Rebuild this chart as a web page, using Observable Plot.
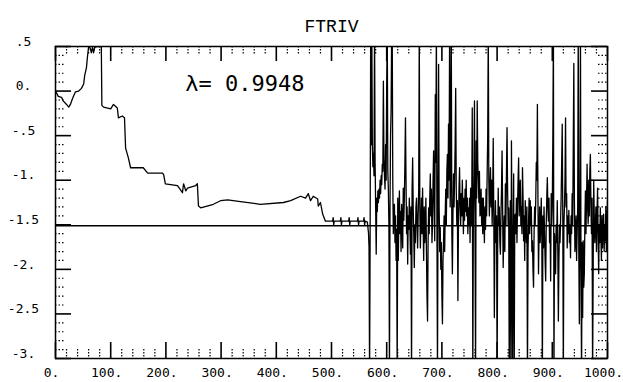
<!DOCTYPE html>
<html><head><meta charset="utf-8">
<script src="https://cdn.jsdelivr.net/npm/d3@7"></script>
<script src="https://cdn.jsdelivr.net/npm/@observablehq/plot@0.6"></script>
<style>
body{margin:0;background:#fff;}
#chart svg{display:block;}
</style></head><body><div id="chart"></div>
<script>
const title = "FTRIV";
const annotation = "λ= 0.9948";
const referenceLevel = -1.51;

const xTicks = [0, 100, 200, 300, 400, 500, 600, 700, 800, 900, 1000];
const xTickLabels = ["0.", "100.", "200.", "300.", "400.", "500.", "600.", "700.", "800.", "900.", "1000."];
const yTicks = [0.5, 0, -0.5, -1, -1.5, -2, -2.5, -3];
const yTickLabels = [".5", "0.", "-.5", "-1.", "-1.5", "-2.", "-2.5", "-3."];

// first phase: slow drift (x, value)
const trendPoints = [
  [0,0],[5,-0.06],[11,-0.07],[14,-0.11],[20,-0.15],[24,-0.18],[27,-0.15],[31,-0.08],[36,-0.01],[42,0],
  [47,0.03],[51,0.08],[53,0.18],[56,0.26],[58,0.39],[60,0.5],[63,0.48],[65,0.43],[67,0.49],[69,0.43],
  [71,0.49],[76,0.5],[83,0.5],[84,-0.16],[87,-0.18],[100,-0.2],[105,-0.15],[112,-0.19],[114,-0.3],[121,-0.28],
  [125,-0.3],[127,-0.64],[132,-0.75],[136,-0.86],[159,-0.86],[167,-0.92],[194,-0.92],[196,-0.94],[199,-1.04],[221,-1.06],
  [230,-1.14],[232,-1.04],[236,-1.12],[239,-1.09],[254,-1.06],[257,-1.04],[259,-1.29],[263,-1.31],[286,-1.27],[299,-1.23],
  [312,-1.22],[335,-1.24],[371,-1.27],[413,-1.25],[426,-1.23],[444,-1.18],[453,-1.2],[458,-1.15],[462,-1.23],[467,-1.18],
  [475,-1.21],[476,-1.29],[480,-1.25],[484,-1.38],[489,-1.46],[498,-1.46],[502,-1.46],[503,-1.42],[504,-1.5],[505,-1.46],
  [516,-1.46],[517,-1.42],[518,-1.5],[519,-1.46],[531,-1.46],[532,-1.42],[533,-1.5],[534,-1.46],[547,-1.46],[548,-1.42],
  [549,-1.5],[550,-1.46],[558,-1.46],[559,-1.42],[560,-1.5],[561,-1.46]
];

// second phase: erratic oscillation (x, value); values beyond the frame are clipped
const chaosPoints = [
  [565,-1.47],[567,-1.59],[568,-1.75],[569,-3.2],[570,-1.6],[571,0.7],[572,-0.6],[573,0.7],[574,-0.62],[575,-0.85],
  [576,-0.7],[577,-0.95],[578,0.7],[579,-0.8],[580,-1.3],[581,-1.83],[582,-1.2],[583,-1.35],[584,-1.12],[585,-1.25],
  [586,-1.1],[587,-1.2],[588,-1.0],[589,-1.15],[590,-0.95],[591,-1.05],[592,-0.82],[593,-0.9],[594,0.11],[595,-0.75],
  [596,-0.95],[597,-1.1],[598,-0.6],[599,-1.0],[600,0.08],[601,0.7],[602,-0.9],[603,-1.1],[604,-1.5],[605,-3.2],
  [606,-1.3],[607,-0.5],[608,-0.2],[609,0.7],[610,0.7],[611,-1.0],[612,-1.6],[613,-1.3],[614,-1.27],[615,-1.7],
  [616,-1.4],[617,-1.9],[618,-1.55],[619,-3.2],[620,-1.2],[621,-1.9],[622,-1.4],[623,-1.12],[624,-1.6],[625,-1.35],
  [626,-1.8],[627,-1.27],[628,-1.5],[629,-1.76],[630,-1.09],[631,-1.45],[632,-1.2],[633,-0.8],[634,-0.3],[635,-1.0],
  [636,-1.6],[637,-1.3],[638,-1.94],[639,-1.4],[640,-1.55],[641,-1.2],[642,-1.5],[643,-1.83],[644,-1.3],[645,-3.2],
  [646,-1.1],[647,-0.75],[648,-1.31],[649,-1.6],[650,-1.98],[651,-1.5],[652,-1.7],[653,-1.3],[654,-1.2],[655,-1.5],
  [656,-1.76],[657,-1.4],[658,-1.1],[659,0.7],[660,-1.3],[661,-1.76],[662,-1.45],[663,-1.2],[664,-1.6],[665,-1.09],
  [666,-1.5],[667,-1.9],[668,-1.3],[669,-1.7],[670,-1.53],[671,-1.2],[672,-1.8],[673,-2.3],[674,-2.58],[675,-1.7],
  [676,-1.31],[677,-1.6],[678,-1.2],[679,-0.93],[680,-1.4],[681,-1.1],[682,-1.7],[683,-1.49],[684,-1.0],[685,-0.67],
  [686,-1.3],[687,-1.68],[688,-0.04],[689,-0.8],[690,0.7],[691,-1.5],[692,-3.2],[693,-1.2],[694,0.3],[695,-1.3],
  [696,-1.8],[697,-1.53],[698,-2.0],[699,-1.7],[700,-2.3],[701,-2.61],[702,-1.9],[703,-1.68],[704,-1.4],[705,-1.8],
  [706,-1.38],[707,-1.1],[708,-1.5],[709,-0.9],[710,-0.71],[711,-1.2],[712,-0.37],[713,-1.0],[714,0.7],[715,-1.3],
  [716,-0.9],[717,0.7],[718,-1.6],[719,-2.05],[720,-1.4],[721,-0.93],[722,-1.3],[723,-1.0],[724,-0.6],[725,0.03],
  [726,-1.1],[727,-1.5],[728,-1.23],[729,-2.35],[730,-1.5],[731,-1.1],[732,-0.86],[733,-1.3],[734,-1.5],[735,-1.15],
  [736,-1.4],[737,-1.0],[738,-1.3],[739,-1.6],[740,-1.2],[741,-1.45],[742,-1.1],[743,-1.35],[744,-1.0],[745,-1.4],
  [746,-1.2],[747,-1.6],[748,-1.31],[749,-1.5],[750,-1.2],[751,-1.7],[752,-1.09],[753,-1.5],[754,-1.3],[755,-0.19],
  [756,-3.2],[757,-1.4],[758,-0.9],[759,-0.11],[760,-1.6],[761,-3.2],[762,-0.56],[763,-1.2],[764,-0.11],[765,-0.8],
  [766,-1.0],[767,-1.25],[768,-0.9],[769,-1.4],[770,-1.38],[771,-1.1],[772,-1.5],[773,-1.2],[774,-1.6],[775,-1.2],
  [776,-1.45],[777,-1.7],[778,-1.3],[779,-1.55],[780,-1.1],[781,-1.4],[782,-0.93],[783,-0.5],[784,0.7],[785,-1.0],
  [786,-1.4],[787,-1.1],[788,-0.86],[789,-1.3],[790,-1.0],[791,-1.5],[792,-1.2],[793,-0.53],[794,-1.4],[795,-2.54],
  [796,-1.6],[797,-1.23],[798,-1.7],[799,-1.4],[800,-3.2],[801,-1.8],[802,-1.09],[803,-1.5],[804,-1.3],[805,-1.7],
  [806,-1.83],[807,-1.4],[808,-1.1],[809,-0.67],[810,-1.3],[811,-1.98],[812,-1.6],[813,-1.4],[814,-1.8],[815,-1.04],
  [816,-1.5],[817,-0.9],[818,-0.41],[819,-1.1],[820,-1.5],[821,-1.31],[822,-3.2],[823,-1.7],[824,-1.23],[825,-3.2],
  [826,-0.56],[827,-1.6],[828,-3.2],[829,-1.8],[830,-0.93],[831,-3.2],[832,-1.4],[833,-1.38],[834,-1.6],[835,-1.2],
  [836,-1.7],[837,-1.3],[838,-1.0],[839,-0.75],[840,-1.4],[841,-1.2],[842,-1.0],[843,-1.5],[844,-1.3],[845,-1.6],
  [846,-0.86],[847,-1.2],[848,-1.68],[849,-1.4],[850,-1.9],[851,-1.23],[852,-1.5],[853,-1.7],[854,-1.3],[855,-3.2],
  [856,-1.8],[857,-1.46],[858,-1.2],[859,-1.6],[860,-1.23],[861,-1.5],[862,-1.3],[863,-1.8],[864,-1.68],[865,-2.0],
  [866,-2.2],[867,-1.6],[868,-1.3],[869,-1.5],[870,-1.23],[871,-0.8],[872,-1.0],[873,-0.15],[874,-1.2],[875,-2.05],
  [876,-1.6],[877,-1.3],[878,-1.7],[879,-1.53],[880,-1.2],[881,-1.6],[882,-3.2],[883,-1.4],[884,-1.76],[885,-1.3],
  [886,-1.6],[887,-1.9],[888,-2.13],[889,-1.5],[890,-1.2],[891,-0.97],[892,-1.3],[893,-1.46],[894,-1.2],[895,-1.7],
  [896,-1.5],[897,-2.13],[898,-1.15],[899,-1.5],[900,-1.3],[901,-0.5],[902,0.7],[903,-3.2],[904,-1.6],[905,-1.9],
  [906,-2.05],[907,-1.5],[908,-1.7],[909,-1.23],[910,-1.8],[911,-2.58],[912,-1.9],[913,-1.5],[914,-1.7],[915,-1.46],
  [916,-1.2],[917,-0.8],[918,-0.37],[919,-1.4],[920,-3.2],[921,-1.5],[922,-1.31],[923,-1.0],[924,-0.3],[925,-1.3],
  [926,-1.15],[927,-1.76],[928,-1.4],[929,-1.6],[930,-1.34],[931,-1.7],[932,-1.5],[933,-1.87],[934,-1.4],[935,-1.6],
  [936,-1.15],[937,-1.5],[938,-0.6],[939,0.31],[940,-1.2],[941,-1.8],[942,-1.68],[943,-1.4],[944,-1.9],[945,-1.6],
  [946,-1.31],[947,0.7],[948,-1.8],[949,-2.61],[950,-1.5],[951,0.7],[952,-2.0],[953,-3.2],[954,-1.7],[955,-2.54],
  [956,-1.68],[957,-2.2],[958,-2.05],[959,-1.5],[960,-1.12],[961,-1.6],[962,-1.23],[963,-0.82],[964,-1.3],[965,-1.49],
  [966,-1.0],[967,-1.4],[968,-0.9],[969,-0.71],[970,-1.3],[971,-1.6],[972,-1.2],[973,-3.2],[974,-2.05],[975,-1.0],
  [976,-1.4],[977,-1.7],[978,-1.53],[979,-1.3],[980,-1.8],[981,-1.4],[982,-1.09],[983,-1.6],[984,-2.05],[985,-1.5],
  [986,-1.7],[987,-1.31],[988,-1.6],[989,-1.9],[990,-1.4],[991,-1.76],[992,-1.5],[993,-1.38],[994,-1.8],[995,-1.5],
  [996,-1.68],[997,-1.3],[998,-1.8],[999,-1.5],[1000,-1.23]
];

const annotationX = 235, annotationY = 0.08;

const W = 623, H = 382, mL = 55, mR = 16, mT = 46, mB = 24;
const frameH = H - mT - mB, frameW = W - mL - mR;
const xMinor = d3.range(0, 1001, 20).filter(v => v % 100 !== 0);
const yMinor = d3.range(-30, 6, 1).filter(v => v % 5 !== 0).map(v => v / 10);
const series = trendPoints.concat(chaosPoints);
const mono = "DejaVu Sans Mono";

const chart = Plot.plot({
  width: W, height: H,
  marginLeft: mL, marginRight: mR, marginTop: mT, marginBottom: mB,
  style: {fontFamily: mono, fontSize: "13px", background: "#fff"},
  x: {domain: [0, 1000]},
  y: {domain: [-3, 0.5]},
  marks: [
    // minor ticks (dotted, inward)
    Plot.ruleX(xMinor.slice(), {x: d => d, insetTop: frameH - 9, stroke: "black", strokeDasharray: "1.5,1.5", strokeWidth: 1.2}),
    Plot.ruleX(xMinor.slice(), {x: d => d, insetBottom: frameH - 9, stroke: "black", strokeDasharray: "1.5,1.5", strokeWidth: 1.2}),
    Plot.ruleY(yMinor.slice(), {y: d => d, insetRight: frameW - 9, stroke: "black", strokeDasharray: "1.5,2", strokeWidth: 1.2}),
    Plot.ruleY(yMinor.slice(), {y: d => d, insetLeft: frameW - 9, stroke: "black", strokeDasharray: "1.5,2", strokeWidth: 1.2}),
    Plot.axisX(xTicks, {tickSize: 0, tickPadding: 9, dx: -4, fontSize: 13, fontFamily: mono,
      tickFormat: d => xTickLabels[xTicks.indexOf(d)]}),
    Plot.axisY(yTicks, {tickSize: 0, tickPadding: 32, textAnchor: "middle", dy: -5, fontSize: 13, fontFamily: mono,
      tickFormat: d => yTickLabels[yTicks.indexOf(d)]}),
    Plot.ruleY([referenceLevel], {stroke: "black", strokeWidth: 1.5}),
    Plot.line(series, {x: d => d[0], y: d => d[1], stroke: "black", strokeWidth: 1.3, clip: true}),
    Plot.frame({stroke: "black", strokeWidth: 1.5}),
    // major ticks (solid, inward), on separate copies of the tick arrays
    Plot.ruleX(xTicks.slice(), {x: d => d, insetTop: frameH - 16, stroke: "black", strokeWidth: 1.6}),
    Plot.ruleX(xTicks.slice(), {x: d => d, insetBottom: frameH - 15, stroke: "black", strokeWidth: 1.6}),
    Plot.ruleY(yTicks.slice(), {y: d => d, insetRight: frameW - 16, stroke: "black", strokeWidth: 1.6}),
    Plot.ruleY(yTicks.slice(), {y: d => d, insetLeft: frameW - 16, stroke: "black", strokeWidth: 1.6}),
    Plot.text([annotation], {x: annotationX, y: annotationY, text: d => d, textAnchor: "start",
      fontSize: 22, fontFamily: mono}),
    Plot.text([title], {frameAnchor: "top", dy: -27, text: d => d, fontSize: 18, fontFamily: "Liberation Mono"})
  ]
});
document.getElementById("chart").appendChild(chart);
</script>
</body></html>
